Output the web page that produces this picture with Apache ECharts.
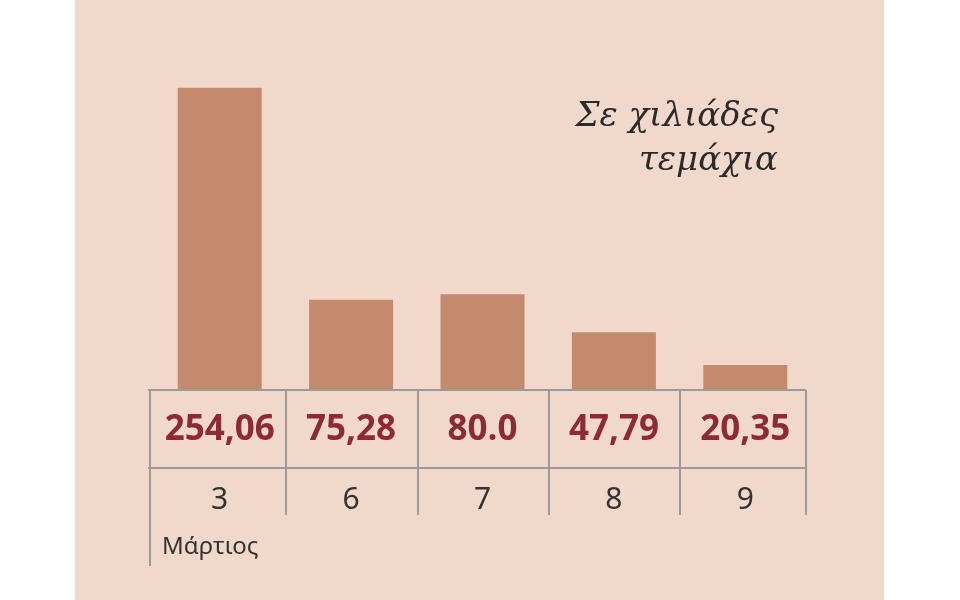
<!DOCTYPE html>
<html><head><meta charset="utf-8">
<script src="https://cdn.jsdelivr.net/npm/echarts@6/dist/echarts.min.js"></script>
<style>html,body{margin:0;padding:0;background:#fff}#c{width:960px;height:600px}</style>
</head><body><div id="c"></div>
<script>
const categories = ['3','6','7','8','9'];
const values = [254.06, 75.28, 80.0, 47.79, 20.35];
const valueLabels = ['254,06','75,28','80.0','47,79','20,35'];

const chart = echarts.init(document.getElementById('c'));
const lc = '#9a9a9a';
function line(x1,y1,x2,y2){return {type:'line',shape:{x1,y1,x2,y2},style:{stroke:lc,lineWidth:2},z:10};}
chart.setOption({
  backgroundColor:'#ffffff',
  grid:{left:154,right:149,top:50,bottom:211},
  xAxis:{type:'category',data:categories,
    axisLine:{show:false},axisTick:{show:false},
    axisLabel:{margin:6,formatter:(v,i)=>'{v|'+valueLabels[i]+'}\n{c|'+v+'}',
      rich:{v:{fontFamily:'Open Sans',fontWeight:'bold',fontSize:35,color:'#8e2a33',lineHeight:70,letterSpacing:-2},
            c:{fontFamily:'Noto Sans',fontSize:30,color:'#333',lineHeight:70}}}},
  yAxis:{type:'value',min:0,max:286,show:false,splitLine:{show:false}},
  series:[{type:'bar',data:values,barWidth:84,itemStyle:{color:'#c48a6e'}}],
  graphic:[
    {type:'rect',shape:{x:75,y:0,width:809,height:600},style:{fill:'#f0d9ca'},z:-10,silent:true},
    line(148,390,806,390),line(148,468,806,468),
    line(150,390,150,566),line(806,390,806,515),
    line(286,390,286,515),line(418,390,418,515),line(549,390,549,515),line(680,390,680,515),
    {type:'text',left:162,top:535,style:{text:'Μάρτιος',font:'24px "Noto Sans"',fill:'#333'}},
    {type:'text',x:778,y:95,style:{text:'Σε χιλιάδες\nτεμάχια',font:'italic 34px "DejaVu Serif"',fill:'#2a2a2a',textAlign:'right',lineHeight:44}}
  ]
});
</script></body></html>
